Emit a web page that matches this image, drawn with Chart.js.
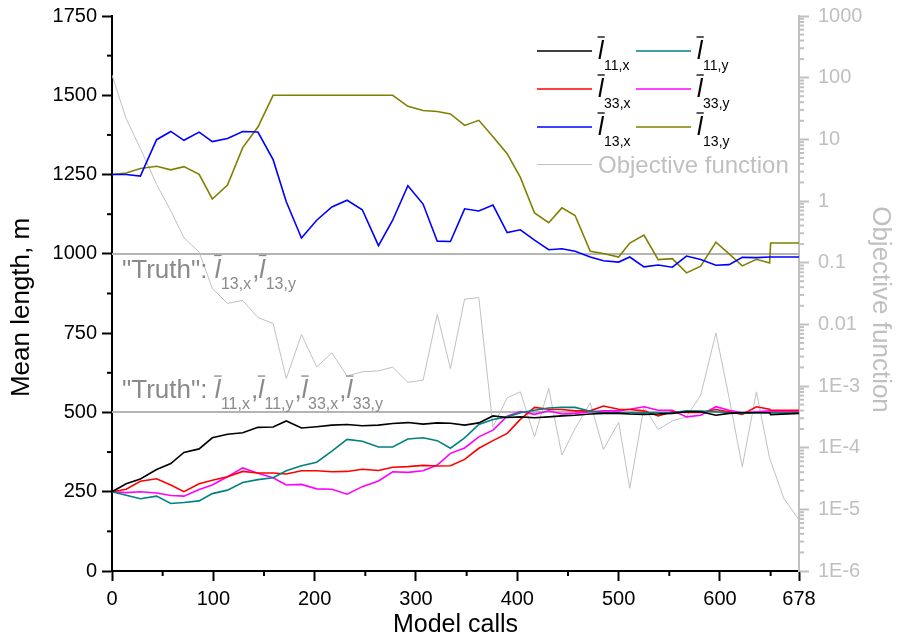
<!DOCTYPE html>
<html><head><meta charset="utf-8">
<script src="https://cdn.jsdelivr.net/npm/chart.js@4/dist/chart.umd.min.js"></script>
<style>html,body{margin:0;padding:0;background:#fff;}#wrap{width:897px;height:643px;}</style>
</head><body><div id="wrap"><canvas id="c" width="897" height="643"></canvas></div>
<script>
// ---- data ----
const callsLen = [0,14,28,44,58,71,86,99,114,129,144,159,172,187,202,217,232,247,263,277,292,307,321,334,348,362,376,390,403,417,431,444,457,472,485,500,511,525,539,553,567,581,596,609,622,636,649,650,678];
const callsObj = [0,14,28,44,58,71,86,99,114,129,144,159,172,187,202,217,232,247,263,277,292,307,321,334,348,362,376,390,403,417,431,444,457,472,485,500,511,525,539,553,567,581,596,609,622,636,649,663,678];
const l11x = [250,275,290,320,339,374,385,420,431,436,453,454,473,451,455,460,462,458,460,465,468,463,467,466,460,467,489,484,486,483,486,489,491,495,497,497,495,494,495,497,502,502,491,497,499,499,499,493,497];
const l11y = [250,239,228,236,213,216,221,244,255,279,288,294,316,332,343,378,415,409,391,391,416,420,411,387,420,462,478,486,499,507,514,516,516,504,499,499,499,499,499,499,505,504,502,499,497,499,499,499,499];
const l33x = [250,258,283,291,271,250,275,286,297,314,309,309,306,316,316,313,314,321,317,327,329,333,331,332,352,387,411,434,478,516,510,509,505,505,520,510,509,505,489,502,500,500,509,502,494,518,510,507,507];
const l33y = [250,247,250,246,238,236,257,271,297,325,308,294,271,273,259,258,242,266,284,313,311,316,334,371,388,423,444,488,503,494,505,495,497,502,505,505,510,518,507,507,486,491,518,507,499,502,505,504,504];
const l13x = [1250,1250,1245,1360,1386,1358,1384,1354,1364,1386,1384,1297,1164,1050,1106,1148,1169,1139,1026,1106,1215,1157,1040,1039,1142,1135,1154,1067,1076,1043,1013,1016,1008,990,978,974,990,959,965,958,993,982,964,966,989,988,990,990,990];
const l13y = [1250,1255,1269,1276,1265,1275,1251,1173,1217,1335,1400,1500,1500,1500,1500,1500,1500,1500,1500,1500,1465,1452,1449,1441,1405,1421,1369,1316,1241,1129,1098,1145,1121,1008,1001,990,1034,1059,982,985,940,961,1037,1000,962,983,971,1034,1034];
const objective = [110,21.7,7.1,1.86,0.695,0.253,0.148,0.0381,0.0218,0.0244,0.0129,0.0103,0.00132,0.00686,0.00204,0.00344,0.00145,0.0017,0.00176,0.00202,0.00115,0.00124,0.0145,0.00192,0.0256,0.0272,0.000218,0.000643,0.000804,0.00015,0.000912,0.0000759,0.000204,0.000533,0.0000938,0.000257,0.0000219,0.000459,0.000197,0.000272,0.000316,0.000711,0.00724,0.000646,0.000049,0.000804,0.0000676,0.0000151,0.00000676];
const xTickValues = [0,100,200,300,400,500,600,678];
const xMinorTicks = [50,150,250,350,450,550,650];
const yTickValues = [0,250,500,750,1000,1250,1500,1750];
const yMinorTicks = [125,375,625,875,1125,1375,1625];
const objTickValues = [1e-6,1e-5,1e-4,1e-3,0.01,0.1,1,10,100,1000];
const objTickLabels = ['1E-6','1E-5','1E-4','1E-3','0.01','0.1','1','10','100','1000'];
const truthValues = [1000, 500];
const legendEntries = [
  {sub:'11,x', color:'#000000'}, {sub:'11,y', color:'#008080'},
  {sub:'33,x', color:'#ff0000'}, {sub:'33,y', color:'#ff00ff'},
  {sub:'13,x', color:'#0000ff'}, {sub:'13,y', color:'#808000'}
];

const FONT = "'Liberation Sans', Arial, sans-serif";
const GREY = '#c0c0c0';
const xy = (xs, ys) => xs.map((x, i) => ({x, y: ys[i]}));

function drawRich(ctx, x, base, parts, o) {
  ctx.fillStyle = o.color; ctx.strokeStyle = o.color;
  ctx.textBaseline = 'alphabetic'; ctx.textAlign = 'left';
  for (const p of parts) {
    if (p.n !== undefined) {
      ctx.font = o.size + 'px ' + FONT;
      ctx.fillText(p.n, x, base);
      x += ctx.measureText(p.n).width;
    } else {
      ctx.font = 'italic ' + o.size + 'px ' + FONT;
      ctx.fillText('l', x, base);
      const w = ctx.measureText('l').width;
      ctx.beginPath(); ctx.lineWidth = 1.3;
      const by = base - o.size * 0.86;
      ctx.moveTo(x - 0.5, by); ctx.lineTo(x + o.size * 0.27, by); ctx.stroke();
      x += w + 0.5;
      ctx.font = o.subSize + 'px ' + FONT;
      ctx.fillText(p.sub, x, base + o.drop);
      x += ctx.measureText(p.sub).width + (o.gap || 0);
    }
  }
}

function vTitle(ctx, text, x, y, rot, color) {
  ctx.save();
  ctx.translate(x, y); ctx.rotate(rot);
  ctx.font = '26px ' + FONT; ctx.fillStyle = color;
  ctx.textAlign = 'center'; ctx.textBaseline = 'middle';
  ctx.fillText(text, 0, 0);
  ctx.restore();
}

const decor = {
  id: 'decor',
  beforeDatasetsDraw(chart) {
    const {ctx, chartArea: a} = chart; const ys = chart.scales.y;
    ctx.save(); ctx.strokeStyle = '#b4b4b4'; ctx.lineWidth = 2;
    truthValues.forEach(v => { const py = Math.round(ys.getPixelForValue(v)); ctx.beginPath(); ctx.moveTo(a.left, py); ctx.lineTo(a.right, py); ctx.stroke(); });
    ctx.restore();
  },
  afterDatasetsDraw(chart) {
    const {ctx, chartArea: a} = chart;
    const xs = chart.scales.x, ys = chart.scales.y, y2 = chart.scales.y2;
    ctx.save();
    // minor ticks
    ctx.lineWidth = 2; ctx.strokeStyle = '#000';
    xMinorTicks.forEach(v => { const px = xs.getPixelForValue(v); ctx.beginPath(); ctx.moveTo(px, a.bottom); ctx.lineTo(px, a.bottom + 5); ctx.stroke(); });
    yMinorTicks.forEach(v => { const py = ys.getPixelForValue(v); ctx.beginPath(); ctx.moveTo(a.left - 5, py); ctx.lineTo(a.left, py); ctx.stroke(); });
    ctx.strokeStyle = GREY;
    for (let d = -6; d < 3; d++) for (let m = 2; m <= 9; m++) {
      const py = y2.getPixelForValue(m * Math.pow(10, d));
      ctx.beginPath(); ctx.moveTo(a.right, py); ctx.lineTo(a.right + 5, py); ctx.stroke();
    }
    // axis titles (vertical)
    const midY = (a.top + a.bottom) / 2 + 14;
    vTitle(ctx, 'Mean length, m', 22, midY, -Math.PI / 2, '#000');
    vTitle(ctx, 'Objective function', 880, midY + 2, Math.PI / 2, GREY);
    // truth labels
    const tcol = '#8a8a8a';
    const lab1 = [{n:'"Truth": '}, {sub:'13,x'}, {n:','}, {sub:'13,y'}];
    const lab2 = [{n:'"Truth": '}, {sub:'11,x'}, {n:','}, {sub:'11,y'}, {n:','}, {sub:'33,x'}, {n:','}, {sub:'33,y'}];
    drawRich(ctx, 122, ys.getPixelForValue(truthValues[0]) + 24, lab1, {size:26, subSize:16, drop:11, color:tcol, gap:1});
    drawRich(ctx, 122, ys.getPixelForValue(truthValues[1]) - 14, lab2, {size:26, subSize:16, drop:11, color:tcol, gap:1});
    // legend
    const rows = [51, 89, 127];
    legendEntries.forEach((e, i) => {
      const r = Math.floor(i / 2), c = i % 2;
      const y = rows[r], lx = c ? 636 : 537;
      ctx.strokeStyle = e.color; ctx.lineWidth = 1.6;
      ctx.beginPath(); ctx.moveTo(lx, y); ctx.lineTo(lx + 55, y); ctx.stroke();
      drawRich(ctx, lx + 61, y + 7.5, [{sub:e.sub}], {size:25, subSize:14, drop:11.5, color:'#000'});
    });
    ctx.strokeStyle = GREY; ctx.lineWidth = 1;
    ctx.beginPath(); ctx.moveTo(537, 164.5); ctx.lineTo(592, 164.5); ctx.stroke();
    ctx.fillStyle = GREY; ctx.font = '24px ' + FONT; ctx.textBaseline = 'alphabetic';
    ctx.fillText('Objective function', 598, 173);
    ctx.restore();
  }
};

const lineDs = (label, xs, ys, color, axis, w) => ({label, data: xy(xs, ys), borderColor: color, backgroundColor: color, borderWidth: w, yAxisID: axis, pointRadius: 0, tension: 0, fill: false});
const fixV = w => s => { s.width = w; s.paddingTop = 0; s.paddingBottom = 0; };

new Chart(document.getElementById('c'), {
  type: 'line',
  data: { datasets: [
    lineDs('l11x', callsLen, l11x, '#000000', 'y', 1.6),
    lineDs('l11y', callsLen, l11y, '#008080', 'y', 1.6),
    lineDs('l33x', callsLen, l33x, '#ff0000', 'y', 1.6),
    lineDs('l33y', callsLen, l33y, '#ff00ff', 'y', 1.6),
    lineDs('l13x', callsLen, l13x, '#0000ff', 'y', 1.6),
    lineDs('l13y', callsLen, l13y, '#808000', 'y', 1.6),
    lineDs('Objective function', callsObj, objective, GREY, 'y2', 1)
  ]},
  options: {
    responsive: false, animation: false, events: [],
    layout: { padding: { top: 16, left: 0, right: 0, bottom: 0 } },
    plugins: { legend: { display: false }, tooltip: { enabled: false } },
    scales: {
      x: {
        type: 'linear', position: 'bottom', min: 0, max: 678,
        afterBuildTicks: s => { s.ticks = xTickValues.map(v => ({value: v})); },
        afterFit: s => { s.height = 72; s.paddingLeft = 0; s.paddingRight = 0; },
        ticks: { color: '#000', font: {family: FONT, size: 20}, padding: 6, maxRotation: 0, autoSkip: false, callback: v => String(v) },
        grid: { drawOnChartArea: false, drawTicks: true, tickLength: 10, tickWidth: 2, tickColor: '#000' },
        border: { display: true, color: '#000', width: 2 },
        title: { display: true, text: 'Model calls', color: '#000', font: {family: FONT, size: 25, lineHeight: 1}, padding: {top: 0, bottom: 5} }
      },
      y: {
        type: 'linear', position: 'left', min: 0, max: 1750,
        afterBuildTicks: s => { s.ticks = yTickValues.map(v => ({value: v})); },
        afterFit: fixV(112),
        ticks: { color: '#000', font: {family: FONT, size: 20}, padding: 5, callback: v => String(v) },
        grid: { drawOnChartArea: false, drawTicks: true, tickLength: 10, tickWidth: 2, tickColor: '#000' },
        border: { display: true, color: '#000', width: 2 },
        title: { display: false, text: 'Mean length, m' }
      },
      y2: {
        type: 'logarithmic', position: 'right', min: 1e-6, max: 1000,
        afterBuildTicks: s => { s.ticks = objTickValues.map(v => ({value: v})); },
        afterFit: fixV(98),
        ticks: { color: GREY, font: {family: FONT, size: 20}, padding: 9, callback: v => objTickLabels[objTickValues.indexOf(v)] },
        grid: { drawOnChartArea: false, drawTicks: true, tickLength: 10, tickWidth: 2, tickColor: GREY },
        border: { display: true, color: GREY, width: 2 },
        title: { display: false, text: 'Objective function' }
      }
    }
  },
  plugins: [decor]
});
</script>
</body></html>
